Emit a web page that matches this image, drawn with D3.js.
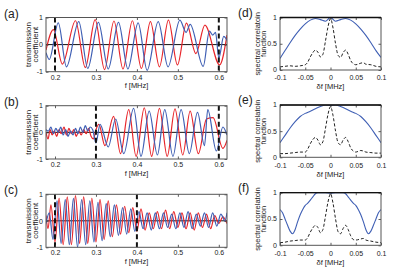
<!DOCTYPE html>
<html>
<head>
<meta charset="utf-8">
<script src="https://cdn.jsdelivr.net/npm/d3@7"></script>
<style>
body { margin: 0; background: #fff; }
text { font-family: "Liberation Sans", Arial, sans-serif; fill: #222; }
</style>
</head>
<body>
<svg width="416" height="271"></svg>
<script>
const svg = d3.select("svg");

// axis ticks
const fTicks = [0.2, 0.3, 0.4, 0.5, 0.6];
const tTicks = [-1, 0, 1];
const tLabels = ["-1", "0", "1"];
const dfTicks = [-0.1, -0.05, 0, 0.05, 0.1];
const dfLabels = ["-0.1", "-0.05", "0", "0.05", "0.1"];
const cTicks = [0, 0.5, 1];
const cLabels = ["0", "0.5", "1"];

// transmission coefficient, [f MHz, value] read at peaks/troughs
const aRed = [[0.178,-0.2],[0.196,0.55],[0.218,-0.72],[0.25,0.88],[0.274,-0.85],[0.298,0.92],[0.321,-0.92],
  [0.344,0.87],[0.366,-0.9],[0.389,0.88],[0.411,-0.88],[0.433,0.85],[0.455,-0.82],[0.477,0.9],[0.499,-0.75],
  [0.521,0.79],[0.544,-0.33],[0.566,0.72],[0.602,-0.75],[0.62,0.35]];
const aBlue = [[0.178,-0.3],[0.186,-0.55],[0.208,0.8],[0.228,-0.82],[0.258,0.85],[0.28,-0.88],[0.306,0.82],
  [0.33,-0.9],[0.355,0.82],[0.378,-0.9],[0.403,0.8],[0.425,-0.95],[0.452,0.85],[0.476,-0.82],[0.505,0.9],
  [0.52,0.45],[0.53,0.75],[0.562,-0.8],[0.577,0.5],[0.585,0.35],[0.592,0.45],[0.6,-0.5],[0.612,0.3],[0.62,0.15]];
const aMarks = [0.2, 0.6];

const bRed = [[0.178,0],[0.183,-0.25],[0.188,0.1],[0.193,-0.1],[0.198,0.05],[0.204,-0.15],[0.21,0.1],
  [0.215,-0.05],[0.222,0.2],[0.228,-0.1],[0.234,0.15],[0.24,-0.05],[0.246,0.1],[0.252,-0.15],[0.258,0.05],
  [0.264,-0.1],[0.27,0.1],[0.276,-0.05],[0.282,0.15],[0.288,-0.15],[0.294,-0.25],[0.3,0.1],[0.307,0.3],
  [0.322,-0.5],[0.343,0.6],[0.36,-0.8],[0.38,0.85],[0.398,-0.9],[0.418,0.92],[0.436,-0.9],[0.455,0.9],
  [0.474,-0.9],[0.493,0.88],[0.512,-0.85],[0.53,0.8],[0.55,-0.8],[0.57,0.5],[0.586,0.55],[0.61,-0.6],[0.62,-0.3]];
const bBlue = [[0.178,0.1],[0.184,0.05],[0.19,0.2],[0.196,-0.05],[0.202,0.15],[0.208,0],[0.214,0.2],
  [0.22,-0.1],[0.226,0.1],[0.232,-0.15],[0.238,0.05],[0.244,-0.1],[0.25,0.15],[0.256,-0.05],[0.262,0.2],
  [0.268,0],[0.274,0.25],[0.28,0.05],[0.286,0.2],[0.292,0.1],[0.3,-0.4],[0.31,0.3],[0.33,-0.55],[0.348,0.5],
  [0.368,-0.8],[0.392,0.9],[0.41,-0.9],[0.43,0.8],[0.45,-0.85],[0.468,0.85],[0.488,-0.9],[0.508,0.85],
  [0.528,-0.8],[0.548,0.75],[0.565,-0.5],[0.573,0.85],[0.594,-0.7],[0.61,0.2],[0.62,-0.1]];
const bMarks = [0.3, 0.6];

const cRed = [[0.178,0.2],[0.183,-0.3],[0.19,0.6],[0.2,-0.8],[0.21,0.85],[0.22,-0.9],[0.23,0.9],[0.24,-0.9],
  [0.25,0.95],[0.26,-0.85],[0.27,0.9],[0.28,-0.85],[0.29,0.85],[0.3,-0.8],[0.31,0.8],[0.32,-0.7],[0.33,0.75],
  [0.34,-0.6],[0.35,0.6],[0.36,-0.5],[0.37,0.55],[0.38,-0.45],[0.39,0.5],[0.4,-0.4],[0.41,0.45],[0.42,-0.35],
  [0.43,0.3],[0.44,-0.3],[0.45,0.35],[0.46,-0.3],[0.47,0.4],[0.48,-0.3],[0.49,0.35],[0.5,-0.25],[0.51,0.3],
  [0.52,-0.3],[0.53,0.3],[0.54,-0.35],[0.55,0.3],[0.56,-0.25],[0.57,0.25],[0.58,-0.3],[0.59,0.2],[0.6,-0.1],
  [0.61,0.15],[0.62,-0.1]];
const cBlue = [[0.178,-0.1],[0.186,0.3],[0.195,-0.7],[0.205,0.75],[0.215,-0.85],[0.225,0.8],[0.235,-0.9],
  [0.245,0.85],[0.255,-1],[0.265,0.8],[0.275,-0.9],[0.285,0.75],[0.295,-0.8],[0.305,0.7],[0.315,-0.75],
  [0.325,0.65],[0.335,-0.6],[0.345,0.6],[0.355,-0.55],[0.365,0.5],[0.375,-0.5],[0.385,0.45],[0.395,-0.4],
  [0.405,0.35],[0.415,-0.3],[0.425,0.3],[0.435,-0.35],[0.445,0.3],[0.455,-0.3],[0.465,0.3],[0.475,-0.25],
  [0.485,0.25],[0.495,-0.3],[0.505,0.3],[0.515,-0.25],[0.525,0.35],[0.535,-0.3],[0.545,0.25],[0.555,-0.2],
  [0.565,0.3],[0.575,-0.25],[0.585,0.3],[0.595,-0.2],[0.605,0.25],[0.615,0],[0.62,0.3]];
const cMarks = [0.2, 0.4];

// spectral correlation, [delta f MHz, value]
const dBlue = [[-0.1,0.22],[-0.09,0.37],[-0.08,0.52],[-0.07,0.66],[-0.06,0.78],[-0.05,0.88],[-0.04,0.95],
  [-0.03,0.98],[-0.02,0.96],[-0.01,0.93],[0,1],[0.01,0.93],[0.02,0.96],[0.03,0.98],[0.04,0.95],[0.05,0.88],
  [0.06,0.78],[0.07,0.66],[0.08,0.52],[0.09,0.37],[0.1,0.24]];
const dDash = [[-0.1,0.06],[-0.09,0.07],[-0.08,0.08],[-0.07,0.07],[-0.06,0.08],[-0.05,0.1],[-0.045,0.15],
  [-0.04,0.25],[-0.035,0.33],[-0.03,0.38],[-0.025,0.34],[-0.02,0.25],[-0.015,0.3],[-0.01,0.55],[-0.005,0.82],
  [0,0.98],[0.005,0.8],[0.01,0.5],[0.015,0.28],[0.02,0.24],[0.025,0.33],[0.03,0.38],[0.035,0.3],[0.04,0.18],
  [0.045,0.12],[0.05,0.1],[0.06,0.13],[0.065,0.14],[0.07,0.11],[0.08,0.1],[0.09,0.07],[0.1,0.06]];
const eBlue = [[-0.1,0.28],[-0.09,0.42],[-0.08,0.56],[-0.07,0.68],[-0.06,0.78],[-0.05,0.84],[-0.04,0.88],
  [-0.03,0.93],[-0.02,0.97],[-0.01,1],[0,0.99],[0.01,1],[0.02,0.97],[0.03,0.93],[0.04,0.88],[0.05,0.84],
  [0.06,0.78],[0.07,0.68],[0.08,0.56],[0.09,0.42],[0.1,0.28]];
const eDash = [[-0.1,0.07],[-0.09,0.07],[-0.08,0.08],[-0.07,0.09],[-0.06,0.1],[-0.05,0.1],[-0.045,0.16],
  [-0.04,0.26],[-0.035,0.34],[-0.03,0.38],[-0.025,0.33],[-0.02,0.24],[-0.015,0.3],[-0.01,0.55],[-0.005,0.82],
  [0,0.97],[0.005,0.8],[0.01,0.5],[0.015,0.28],[0.02,0.24],[0.025,0.33],[0.03,0.38],[0.035,0.3],[0.04,0.18],
  [0.045,0.12],[0.05,0.1],[0.06,0.13],[0.065,0.12],[0.07,0.1],[0.08,0.09],[0.09,0.08],[0.1,0.08]];
const fBlue = [[-0.1,0.68],[-0.095,0.62],[-0.09,0.5],[-0.085,0.38],[-0.08,0.27],[-0.075,0.22],[-0.07,0.3],
  [-0.065,0.45],[-0.06,0.58],[-0.055,0.68],[-0.05,0.76],[-0.045,0.8],[-0.04,0.86],[-0.035,0.92],[-0.03,0.98],
  [-0.025,1],[-0.01,1],[0,0.99],[0.01,1],[0.025,1],[0.03,0.98],[0.035,0.92],[0.04,0.86],[0.045,0.8],
  [0.05,0.76],[0.055,0.68],[0.06,0.58],[0.065,0.45],[0.07,0.3],[0.075,0.22],[0.08,0.27],[0.085,0.38],
  [0.09,0.5],[0.095,0.62],[0.1,0.68]];
const fDash = [[-0.1,0.05],[-0.09,0.06],[-0.08,0.08],[-0.07,0.09],[-0.06,0.1],[-0.05,0.1],[-0.045,0.15],
  [-0.04,0.25],[-0.035,0.33],[-0.03,0.38],[-0.025,0.34],[-0.02,0.24],[-0.015,0.3],[-0.01,0.55],[-0.005,0.82],
  [0,0.98],[0.005,0.8],[0.01,0.5],[0.015,0.26],[0.02,0.22],[0.025,0.32],[0.03,0.38],[0.035,0.3],[0.04,0.18],
  [0.045,0.11],[0.05,0.1],[0.06,0.12],[0.065,0.13],[0.07,0.1],[0.08,0.08],[0.09,0.06],[0.1,0.05]];

const red = "#e8262b";
const blue = "#3f5fb4";

const left = [
  { label: "(a)", red: aRed, blue: aBlue, marks: aMarks, top: 17.5, bottom: 71.7 },
  { label: "(b)", red: bRed, blue: bBlue, marks: bMarks, top: 105.7, bottom: 159 },
  { label: "(c)", red: cRed, blue: cBlue, marks: cMarks, top: 194.3, bottom: 247.3 }
];
const right = [
  { label: "(d)", blue: dBlue, dash: dDash, top: 17.5, bottom: 70 },
  { label: "(e)", blue: eBlue, dash: eDash, top: 105, bottom: 157.3 },
  { label: "(f)", blue: fBlue, dash: fDash, top: 192.7, bottom: 245.3 }
];

function frame(g, x, y, id) {
  const [x0, x1] = x.range();
  const [y1, y0] = y.range();
  g.append("clipPath").attr("id", id)
    .append("rect").attr("x", x0).attr("y", y0).attr("width", x1 - x0).attr("height", y1 - y0);
}

function axes(g, x, y, xt, xl, yt, yl, xpad) {
  const [x0, x1] = x.range();
  const [y1, y0] = y.range();
  const xfmt = (d, i) => xl ? xl[i] : d3.format("")(d);
  g.append("g").attr("transform", `translate(0,${y1})`)
    .call(d3.axisBottom(x).tickValues(xt).tickFormat(xfmt).tickSizeInner(-2.5).tickSizeOuter(0).tickPadding(xpad));
  g.append("g").attr("transform", `translate(0,${y0})`)
    .call(d3.axisTop(x).tickValues(xt).tickFormat("").tickSizeInner(-2.5).tickSizeOuter(0));
  g.append("g").attr("class", "yax").attr("transform", `translate(${x0},0)`)
    .call(d3.axisLeft(y).tickValues(yt).tickFormat((d, i) => yl[i]).tickSizeInner(-2.5).tickSizeOuter(0).tickPadding(3));
  g.append("g").attr("transform", `translate(${x1},0)`)
    .call(d3.axisRight(y).tickValues(yt).tickFormat("").tickSizeInner(-2.5).tickSizeOuter(0));
  g.selectAll(".domain").remove();
  g.selectAll(".tick line").attr("stroke", "#333").attr("stroke-width", 0.8);
  g.selectAll(".tick text").attr("font-size", 7).attr("fill", "#333")
    .attr("font-family", "Liberation Sans, Arial, sans-serif");
  g.append("rect").attr("x", x0).attr("y", y0).attr("width", x1 - x0).attr("height", y1 - y0)
    .attr("fill", "none").attr("stroke", "#555").attr("stroke-width", 1);
}

left.forEach((p, i) => {
  const x = d3.scaleLinear().domain([0.178, 0.62]).range([46, 227]);
  const y = d3.scaleLinear().domain([-1, 1]).range([p.bottom, p.top]);
  const g = svg.append("g");
  frame(g, x, y, "clipL" + i);
  const line = d3.line().x(d => x(d[0])).y(d => y(d[1])).curve(d3.curveMonotoneX);
  const body = g.append("g").attr("clip-path", `url(#clipL${i})`);
  body.append("line").attr("x1", x(0.178)).attr("x2", x(0.62)).attr("y1", y(0)).attr("y2", y(0))
    .attr("stroke", "#111").attr("stroke-width", 1);
  body.append("path").datum(p.red).attr("fill", "none").attr("stroke", red).attr("stroke-width", 1.2).attr("d", line);
  body.append("path").datum(p.blue).attr("fill", "none").attr("stroke", blue).attr("stroke-width", 1.2).attr("d", line);
  p.marks.forEach(m => {
    body.append("line").attr("x1", x(m)).attr("x2", x(m)).attr("y1", y(1)).attr("y2", y(-1))
      .attr("stroke", "#111").attr("stroke-width", 2).attr("stroke-dasharray", "5,3");
  });
  axes(g, x, y, fTicks, null, tTicks, tLabels, 3);
  g.append("text").attr("x", 4).attr("y", p.top).attr("font-size", 12).text(p.label);
  const cy = (p.top + p.bottom) / 2;
  g.append("text").attr("transform", `translate(31,${cy}) rotate(-90)`).attr("text-anchor", "middle")
    .attr("font-size", 8).text("transmission");
  g.append("text").attr("transform", `translate(37.5,${cy}) rotate(-90)`).attr("text-anchor", "middle")
    .attr("font-size", 8).text("coefficient");
  g.append("text").attr("x", (x(0.178) + x(0.62)) / 2).attr("y", p.bottom + 16.5).attr("text-anchor", "middle")
    .attr("font-size", 7.5).text("f [MHz]");
});

right.forEach((p, i) => {
  const x = d3.scaleLinear().domain([-0.1, 0.1]).range([280, 381]);
  const y = d3.scaleLinear().domain([0, 1]).range([p.bottom, p.top]);
  const g = svg.append("g");
  frame(g, x, y, "clipR" + i);
  const line = d3.line().x(d => x(d[0])).y(d => y(d[1])).curve(d3.curveMonotoneX);
  const body = g.append("g").attr("clip-path", `url(#clipR${i})`);
  body.append("path").datum(p.dash).attr("fill", "none").attr("stroke", "#222").attr("stroke-width", 1)
    .attr("stroke-dasharray", "3,2").attr("d", line);
  body.append("path").datum(p.blue).attr("fill", "none").attr("stroke", blue).attr("stroke-width", 1.1).attr("d", line);
  axes(g, x, y, dfTicks, dfLabels, cTicks, cLabels, 5.4);
  g.selectAll(".yax .tick text").attr("dy", "0.28em");
  g.append("line").attr("x1", x(-0.1)).attr("x2", x(0.1)).attr("y1", y(1)).attr("y2", y(1))
    .attr("stroke", "#111").attr("stroke-width", 1.3);
  g.append("text").attr("x", 238).attr("y", p.top - 1).attr("font-size", 12).text(p.label);
  const cy = (p.top + p.bottom) / 2;
  g.append("text").attr("transform", `translate(259.5,${cy}) rotate(-90)`).attr("text-anchor", "middle")
    .attr("font-size", 7.5).text("spectral correlatoin");
  g.append("text").attr("transform", `translate(265.5,${cy}) rotate(-90)`).attr("text-anchor", "middle")
    .attr("font-size", 7.5).text("function");
  g.append("text").attr("x", (x(-0.1) + x(0.1)) / 2).attr("y", p.bottom + 19.2).attr("text-anchor", "middle")
    .attr("font-size", 7.5).text("δf [MHz]");
});
</script>
</body>
</html>
